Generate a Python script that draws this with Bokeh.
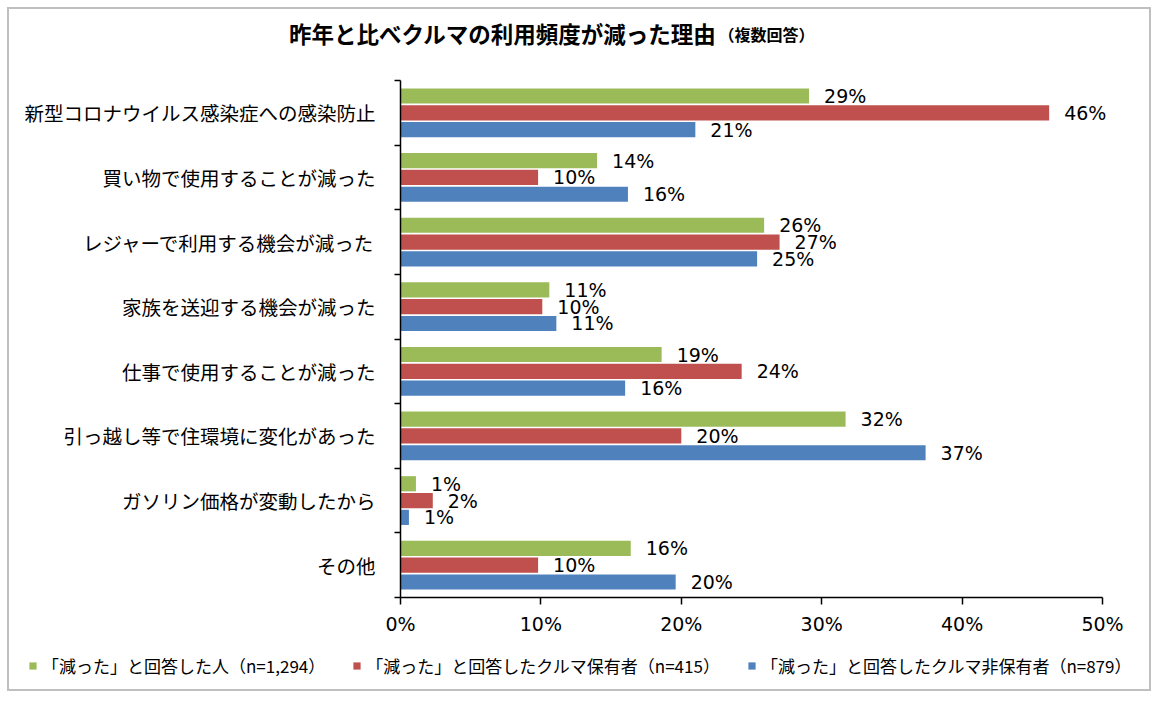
from bokeh.plotting import figure
from bokeh.models import (ColumnDataSource, Range1d, FixedTicker, PrintfTickFormatter,
                          Label, LabelSet, Legend, LegendItem)
from bokeh.transform import dodge
from bokeh.core.properties import value
from bokeh.embed import file_html
from bokeh.resources import INLINE

title_main = "昨年と比べクルマの利用頻度が減った理由"
title_sub = "（複数回答）"

categories = [
    "新型コロナウイルス感染症への感染防止",
    "買い物で使用することが減った",
    "レジャーで利用する機会が減った",
    "家族を送迎する機会が減った",
    "仕事で使用することが減った",
    "引っ越し等で住環境に変化があった",
    "ガソリン価格が変動したから",
    "その他",
]
series_names = [
    "「減った」と回答した人（n=1,294）",
    "「減った」と回答したクルマ保有者（n=415）",
    "「減った」と回答したクルマ非保有者（n=879）",
]
all_resp = [29.1, 14.0, 25.9, 10.6, 18.6, 31.7, 1.1, 16.4]
owners = [46.2, 9.8, 27.0, 10.1, 24.3, 20.0, 2.3, 9.8]
non_owners = [21.0, 16.2, 25.4, 11.1, 16.0, 37.4, 0.6, 19.6]
x_ticks = [0, 10, 20, 30, 40, 50]

colors = ["#9BBB59", "#C0504D", "#4F81BD"]

n = len(categories)
ypos = [n - i - 0.5 for i in range(n)]
src = ColumnDataSource(dict(
    y=ypos,
    a=all_resp, b=owners, c=non_owners,
    la=[f"{v:.0f}%" for v in all_resp],
    lb=[f"{v:.0f}%" for v in owners],
    lc=[f"{v:.0f}%" for v in non_owners],
))

W, H = 1144, 684
# page pixels: canvas spans x 9..1153, y 9..693 ; axis x 0 -> 400, 50 -> 1102 ; y 0 -> 597, n -> 80
L, R, T, B = 9, 9 + W, 9, 9 + H
px_per_x = (1102 - 400) / 50
px_per_y = (597 - 80) / n
x_start = -(400 - L) / px_per_x
x_end = 50 + (R - 1102) / px_per_x
y_start = -(B - 597) / px_per_y
y_end = n + (80 - T) / px_per_y

p = figure(width=W, height=H, output_backend="svg", toolbar_location=None,
           x_range=Range1d(x_start, x_end), y_range=Range1d(y_start, y_end),
           min_border=0, min_border_left=0, min_border_right=0,
           min_border_top=0, min_border_bottom=0)
p.styles = {"border": "2px solid #BFBFBF", "margin-left": "7px", "margin-top": "7px"}
p.outline_line_color = None
p.xgrid.visible = False
p.ygrid.visible = False
p.background_fill_color = "white"
p.border_fill_color = "white"

off = 0.26
bh = 0.235
renderers = []
for key, lkey, o, col in [("a", "la", off, colors[0]), ("b", "lb", 0.0, colors[1]), ("c", "lc", -off, colors[2])]:
    r = p.hbar(y=dodge("y", o, range=p.y_range), right=key, left=0, height=bh,
               fill_color=col, line_color=None, source=src)
    renderers.append(r)
    p.add_layout(LabelSet(x=key, y=dodge("y", o, range=p.y_range), text=lkey, source=src,
                          x_offset=15, text_baseline="middle", text_align="left",
                          text_font=value("DejaVu Sans"), text_font_size="19px",
                          text_color="black"))

# x axis
xa = p.xaxis[0]
xa.fixed_location = 0
xa.ticker = FixedTicker(ticks=x_ticks)
xa.bounds = (0, 50)
xa.formatter = PrintfTickFormatter(format="%d%%")
xa.axis_line_color = "black"
xa.axis_line_width = 1.5
xa.major_tick_line_color = "black"
xa.major_tick_line_width = 1.5
xa.major_tick_out = 7
xa.major_tick_in = 0
xa.minor_tick_line_color = None
xa.major_label_text_font = "DejaVu Sans"
xa.major_label_text_font_size = "19px"
xa.major_label_text_color = "black"
xa.major_label_standoff = 8

# y axis
ya = p.yaxis[0]
ya.fixed_location = 0
ya.ticker = FixedTicker(ticks=ypos, minor_ticks=list(range(n + 1)))
ya.bounds = (0, n)
ya.major_label_overrides = {y: c for y, c in zip(ypos, categories)}
ya.axis_line_color = "black"
ya.axis_line_width = 1.5
ya.major_tick_out = 0
ya.major_tick_in = 0
ya.major_tick_line_color = None
ya.minor_tick_line_color = "black"
ya.minor_tick_line_width = 1.5
ya.minor_tick_out = 6
ya.minor_tick_in = 0
ya.major_label_text_font = "Noto Sans CJK JP"
ya.major_label_text_font_size = "19.5px"
ya.major_label_text_color = "black"
ya.major_label_standoff = 19

# title (screen units from the frame's bottom-left)
p.add_layout(Label(x=716 - L, y=B - 32, x_units="screen", y_units="screen", text=title_main,
                   text_align="right", text_baseline="middle",
                   text_font="Noto Sans CJK JP", text_font_style="bold",
                   text_font_size="22.5px", text_color="black"))
p.add_layout(Label(x=718 - L, y=B - 33, x_units="screen", y_units="screen", text=title_sub,
                   text_align="left", text_baseline="middle",
                   text_font="Noto Sans CJK JP", text_font_style="bold",
                   text_font_size="16px", text_color="black"))

legend = Legend(items=[LegendItem(label=nm, renderers=[r]) for nm, r in zip(series_names, renderers)],
                location=(28 - L, B - 678), orientation="horizontal",
                glyph_width=9, glyph_height=9, label_standoff=5, spacing=27,
                padding=0, margin=0, border_line_color=None, background_fill_alpha=0,
                label_text_font="Noto Sans CJK JP", label_text_font_size="17px",
                label_text_color="black")
p.add_layout(legend)

open("out.html", "w").write(file_html(p, INLINE))
